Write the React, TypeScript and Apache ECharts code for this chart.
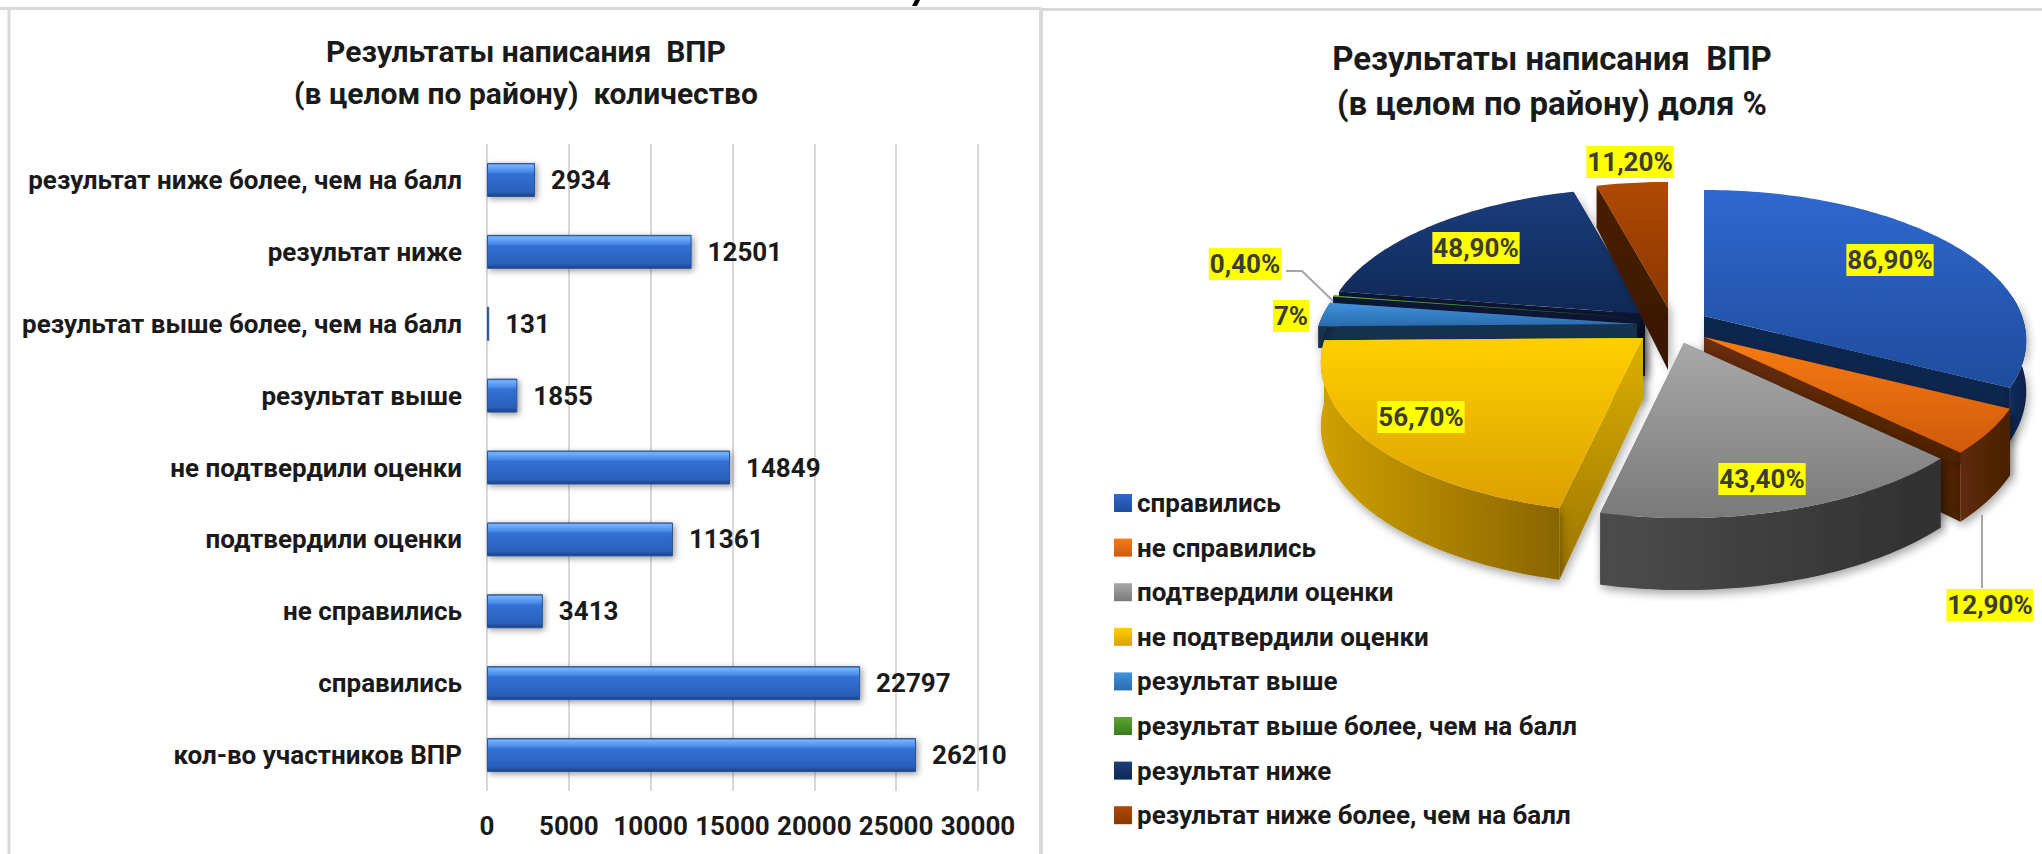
import React, { useEffect, useRef } from "react";
import * as echarts from "echarts";

const barCategories = ["кол-во участников ВПР","справились","не справились","подтвердили оценки","не подтвердили оценки","результат выше","результат выше более, чем на балл","результат ниже","результат ниже более, чем на балл"];
const barValues = [26210,22797,3413,11361,14849,1855,131,12501,2934];
const pieNames = ["справились","не справились","подтвердили оценки","не подтвердили оценки","результат выше","результат выше более, чем на балл","результат ниже","результат ниже более, чем на балл"];
const pieValues = [86.9,12.9,43.4,56.7,7,0.4,48.9,11.2];
const pieLabels = ["86,90%","12,90%","43,40%","56,70%","7%","0,40%","48,90%","11,20%"];

// appearance only
const FONT = "Roboto";
const tips = [[1704,316],[1704,337],[1684,343],[1643,338],[1637,324],[1640,318],[1645,314],[1668,308]];
const labelAt = [[1890,260],[1990,605],[1762,479],[1421,417],[1291,316],[1245,264],[1476,248],[1630,162]];
const topCols = [["#2f68d0","#1f4c9c"],["#f87c12","#cf5a0c"],["#a8a8a8","#7a7a7a"],["#ffcf00","#dca000"],["#3f92de","#2a6cad"],["#5aa832","#3c7a20"],["#1b3d7c","#0f2855"],["#b04a04","#8a3602"]];
const wallCols = [["#12305f","#0c2048"],["#5f2a08","#4a2004"],["#4c4c4c","#303030"],["#cfa000","#8a6400"],["#17324f","#16304d"],["#081634","#081634"],["#0a1a3a","#08142c"],["#3f1c02","#3a1800"]];
const cutCols = [["#0e2650","#0e2650"],["#6a2e08","#4a2004"],["#555555","#3a3a3a"],["#dcb000","#9a7400"],["#17324f","#17324f"],["#081634","#081634"],["#081634","#081634"],["#4a2002","#381600"]];
const thickScale = [0.8,1,1,1,0.35,0.35,1,1];
const drawOrder = [6,5,4,7,0,3,1,2];
const leaders: Record<number, number[][]> = { 5: [[1286,271],[1302,271],[1333,301]], 1: [[1982,515],[1982,588]] };

const vgrad = (a: string, b: string) => new echarts.graphic.LinearGradient(0,0,0,1,[{offset:0,color:a},{offset:1,color:b}]);
const hgrad = (a: string, b: string) => new echarts.graphic.LinearGradient(0,0,1,0,[{offset:0,color:a},{offset:1,color:b}]);

const total = pieValues.reduce((s,v)=>s+v,0);
const D = 6.14, F = 1952, S = 900;
const proj = (t: number) => { const X=Math.sin(t), Y=-Math.cos(t), q=D-Y; return [F*X/q, S*Y/q, Y>0?62+10*Y:62+21*Y]; };

function sliceRender(i: number) {
  return () => {
    const start = pieValues.slice(0,i).reduce((s,v)=>s+v,0)/total*Math.PI*2;
    const end = start + pieValues[i]/total*Math.PI*2;
    const [px,py] = tips[i];
    const ts = thickScale[i];
    const n = Math.max(2, Math.ceil((end-start)/0.02));
    const arc: number[][] = [];
    for (let k=0;k<=n;k++){ const p=proj(start+(end-start)*k/n); arc.push([px+p[0],py+p[1],p[2]*ts,k/n,-Math.cos(start+(end-start)*k/n)]); }
    const th0 = 62*ts;
    const cut = (p: number[], fill: any) => ({ type:"polygon", shape:{points:[[px,py],[p[0],p[1]],[p[0],p[1]+p[2]],[px,py+th0]]}, style:{fill, shadowBlur:8, shadowColor:"rgba(0,0,0,0.3)", shadowOffsetX:3, shadowOffsetY:3} });
    const vis = arc.filter(p=>p[4]>-0.16);
    const children: any[] = [];
    children.push(cut(arc[n], vgrad(cutCols[i][0],cutCols[i][1])));
    children.push(cut(arc[0], vgrad(cutCols[i][0],cutCols[i][1])));
    if (vis.length>1) {
      const pts = [...vis.map(p=>[p[0],p[1]]), ...vis.slice().reverse().map(p=>[p[0],p[1]+p[2]])];
      children.push({ type:"polygon", shape:{points:pts}, style:{fill:hgrad(wallCols[i][0],wallCols[i][1]), shadowBlur:10, shadowColor:"rgba(0,0,0,0.35)", shadowOffsetX:2, shadowOffsetY:4} });
    }
    children.push({ type:"polygon", shape:{points:[[px,py],...arc.map(p=>[p[0],p[1]])]}, style:{fill:vgrad(topCols[i][0],topCols[i][1])} });
    if (leaders[i]) children.push({ type:"polyline", shape:{points:leaders[i]}, style:{fill:"none",stroke:"#a6a6a6",lineWidth:2} });
    children.push({ type:"text", x:labelAt[i][0], y:labelAt[i][1], style:{ text:pieLabels[i], fill:"#3c3c30", fontFamily:FONT, fontWeight:"bold", fontSize:26, align:"center", verticalAlign:"middle", backgroundColor:"#ffff00", padding:[3,1,3,1] } });
    return { type:"group", children };
  };
}

export default function App() {
  const ref = useRef<HTMLDivElement>(null);
  useEffect(() => {
    const chart = echarts.init(ref.current!, undefined, { renderer: "svg" });
    const barFill = new echarts.graphic.LinearGradient(0,0,0,1,[
      {offset:0,color:"#2f62b8"},{offset:0.05,color:"#78b2f8"},{offset:0.24,color:"#4a8cec"},{offset:0.32,color:"#3270d2"},{offset:0.86,color:"#2a60bc"},{offset:1,color:"#1b3f80"}]);
    chart.setOption({
      animation:false, backgroundColor:"#ffffff",
      title:[
        {text:"Результаты написания  ВПР\n(в целом по району)  количество",left:521,top:25,textAlign:"center",textStyle:{fontFamily:FONT,fontWeight:"bold",fontSize:30,lineHeight:42,color:"#1a1a1a"}},
        {text:"Результаты написания  ВПР\n(в целом по району) доля %",left:1547,top:31,textAlign:"center",textStyle:{fontFamily:FONT,fontWeight:"bold",fontSize:33,lineHeight:45,color:"#1a1a1a"}},
      ],
      grid:{left:487,top:144,width:491,height:647,containLabel:false},
      xAxis:{type:"value",min:0,max:30000,interval:5000,axisLine:{show:false},axisTick:{show:false},splitLine:{lineStyle:{color:"#d9d9d9",width:2}},axisLabel:{fontFamily:FONT,fontWeight:"bold",fontSize:26,color:"#1a1a1a",margin:22,formatter:(v:number)=>String(v)}},
      yAxis:{type:"category",data:barCategories,axisLine:{show:false},axisTick:{show:false},axisLabel:{fontFamily:FONT,fontWeight:"bold",fontSize:26,color:"#1a1a1a",margin:25}},
      legend:{orient:"vertical",left:1114,top:490,padding:0,itemWidth:18,itemHeight:18,itemGap:18.6,icon:"rect",selectedMode:false,
        textStyle:{fontFamily:FONT,fontWeight:"bold",fontSize:26,lineHeight:24,color:"#1a1a1a"},
        data:pieNames.map((name,i)=>({name,itemStyle:{color:vgrad(topCols[i][0],topCols[i][1])}}))},
      graphic:[
        {type:"line",shape:{x1:0,y1:8.5,x2:1041,y2:8.5},style:{stroke:"#d9d9d9",lineWidth:3},silent:true},
        {type:"line",shape:{x1:9,y1:8,x2:9,y2:854},style:{stroke:"#d9d9d9",lineWidth:3},silent:true},
        {type:"line",shape:{x1:1041,y1:8,x2:1041,y2:854},style:{stroke:"#d9d9d9",lineWidth:4},silent:true},
        {type:"line",shape:{x1:1043,y1:9.5,x2:2042,y2:9.5},style:{stroke:"#d9d9d9",lineWidth:3},silent:true},
        {type:"polygon",shape:{points:[[912,6],[917,6],[920,0],[915,0]]},style:{fill:"#000"},silent:true},
      ],
      series:[
        {type:"bar",data:barValues,barWidth:34,itemStyle:{color:barFill,borderColor:"#2a5597",borderWidth:1,shadowBlur:6,shadowColor:"rgba(0,0,0,0.4)",shadowOffsetX:2,shadowOffsetY:2},
          label:{show:true,position:"right",distance:16,fontFamily:FONT,fontWeight:"bold",fontSize:26,color:"#1a1a1a"}},
        ...drawOrder.map((i,k)=>({type:"custom",name:pieNames[i],coordinateSystem:"none",z:3+k,silent:true,clip:false,itemStyle:{color:topCols[i][0]},data:[[pieValues[i]]],renderItem:sliceRender(i)})),
      ],
    });
    return () => chart.dispose();
  }, []);
  return <div ref={ref} style={{position:"absolute",left:0,top:0,width:2042,height:854}} />;
}
